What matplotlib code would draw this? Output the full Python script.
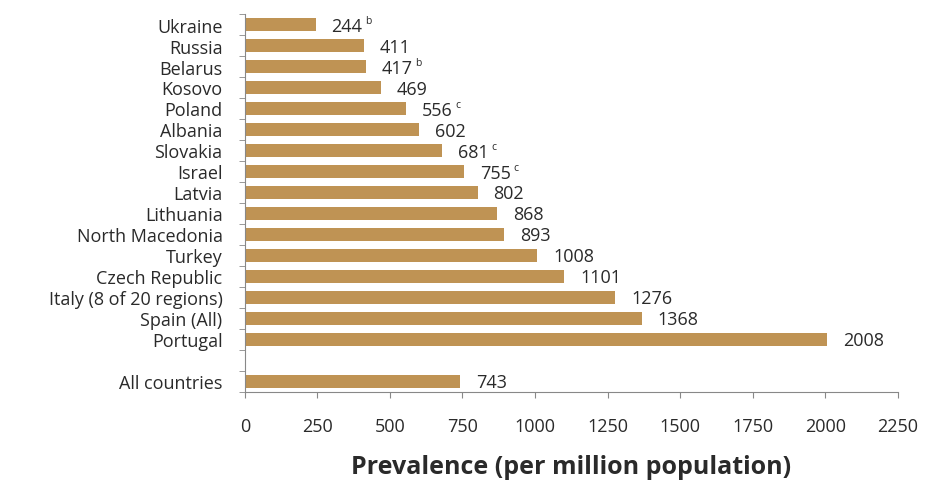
import matplotlib
matplotlib.use("Agg")
import matplotlib.pyplot as plt
import numpy as np

countries = ["Ukraine", "Russia", "Belarus", "Kosovo", "Poland", "Albania", "Slovakia",
             "Israel", "Latvia", "Lithuania", "North Macedonia", "Turkey", "Czech Republic",
             "Italy (8 of 20 regions)", "Spain (All)", "Portugal"]
values = [244, 411, 417, 469, 556, 602, 681, 755, 802, 868, 893, 1008, 1101, 1276, 1368, 2008]
notes = ["b", "", "b", "", "c", "", "c", "c", "", "", "", "", "", "", "", ""]
total_label = "All countries"
total_value = 743
xticks = [0, 250, 500, 750, 1000, 1250, 1500, 1750, 2000, 2250]
xlabel = "Prevalence (per million population)"

plt.rcParams['font.family'] = ['Open Sans', 'DejaVu Sans']
color = "#BF9354"
textc = "#2a2a2a"
fs = 13

fig = plt.figure(figsize=(9.38, 4.85), dpi=100)
ax = fig.add_axes([0.261, 0.19, 0.696, 0.779])

labels = countries + ["", total_label]
vals = values + [np.nan, total_value]
nts = notes + ["", ""]
pos = np.arange(len(labels))
ax.barh(pos, np.nan_to_num(vals), height=0.65, color=color, zorder=2)

num_texts = []
for p, v, n in zip(pos, vals, nts):
    if np.isnan(v):
        continue
    t = ax.text(v + 55, p + 0.05, f"{int(v)}", va="center", ha="left", fontsize=fs, color=textc)
    num_texts.append((t, n))

ax.set_ylim(len(labels) - 0.5, -0.5)
ax.set_xlim(0, 2250)
ax.set_yticks(pos)
ax.set_yticklabels(labels, fontsize=fs, color=textc)
ax.tick_params(axis="y", which="major", length=0, pad=16)
ax.set_yticks(np.arange(-0.5, len(labels)), minor=True)
ax.tick_params(axis="y", which="minor", length=4, color="#888888")
ax.set_xticks(xticks)
ax.set_xticklabels([str(t) for t in xticks], fontsize=fs, color=textc)
ax.tick_params(axis="x", length=4, color="#888888", pad=14)
ax.set_xlabel(xlabel, fontsize=18, fontweight="bold", color=textc, labelpad=14)

for s in ["top", "right"]:
    ax.spines[s].set_visible(False)
for s in ["left", "bottom"]:
    ax.spines[s].set_color("#888888")

fig.canvas.draw()
r = fig.canvas.get_renderer()
for t, n in num_texts:
    if not n:
        continue
    bb = t.get_window_extent(renderer=r)
    ax.annotate(n, xy=(bb.x1, bb.y1), xycoords="figure pixels", xytext=(2, -3),
                textcoords="offset points", ha="left", va="center", fontsize=7.5, color=textc)

fig.savefig("out.png", dpi=100)
